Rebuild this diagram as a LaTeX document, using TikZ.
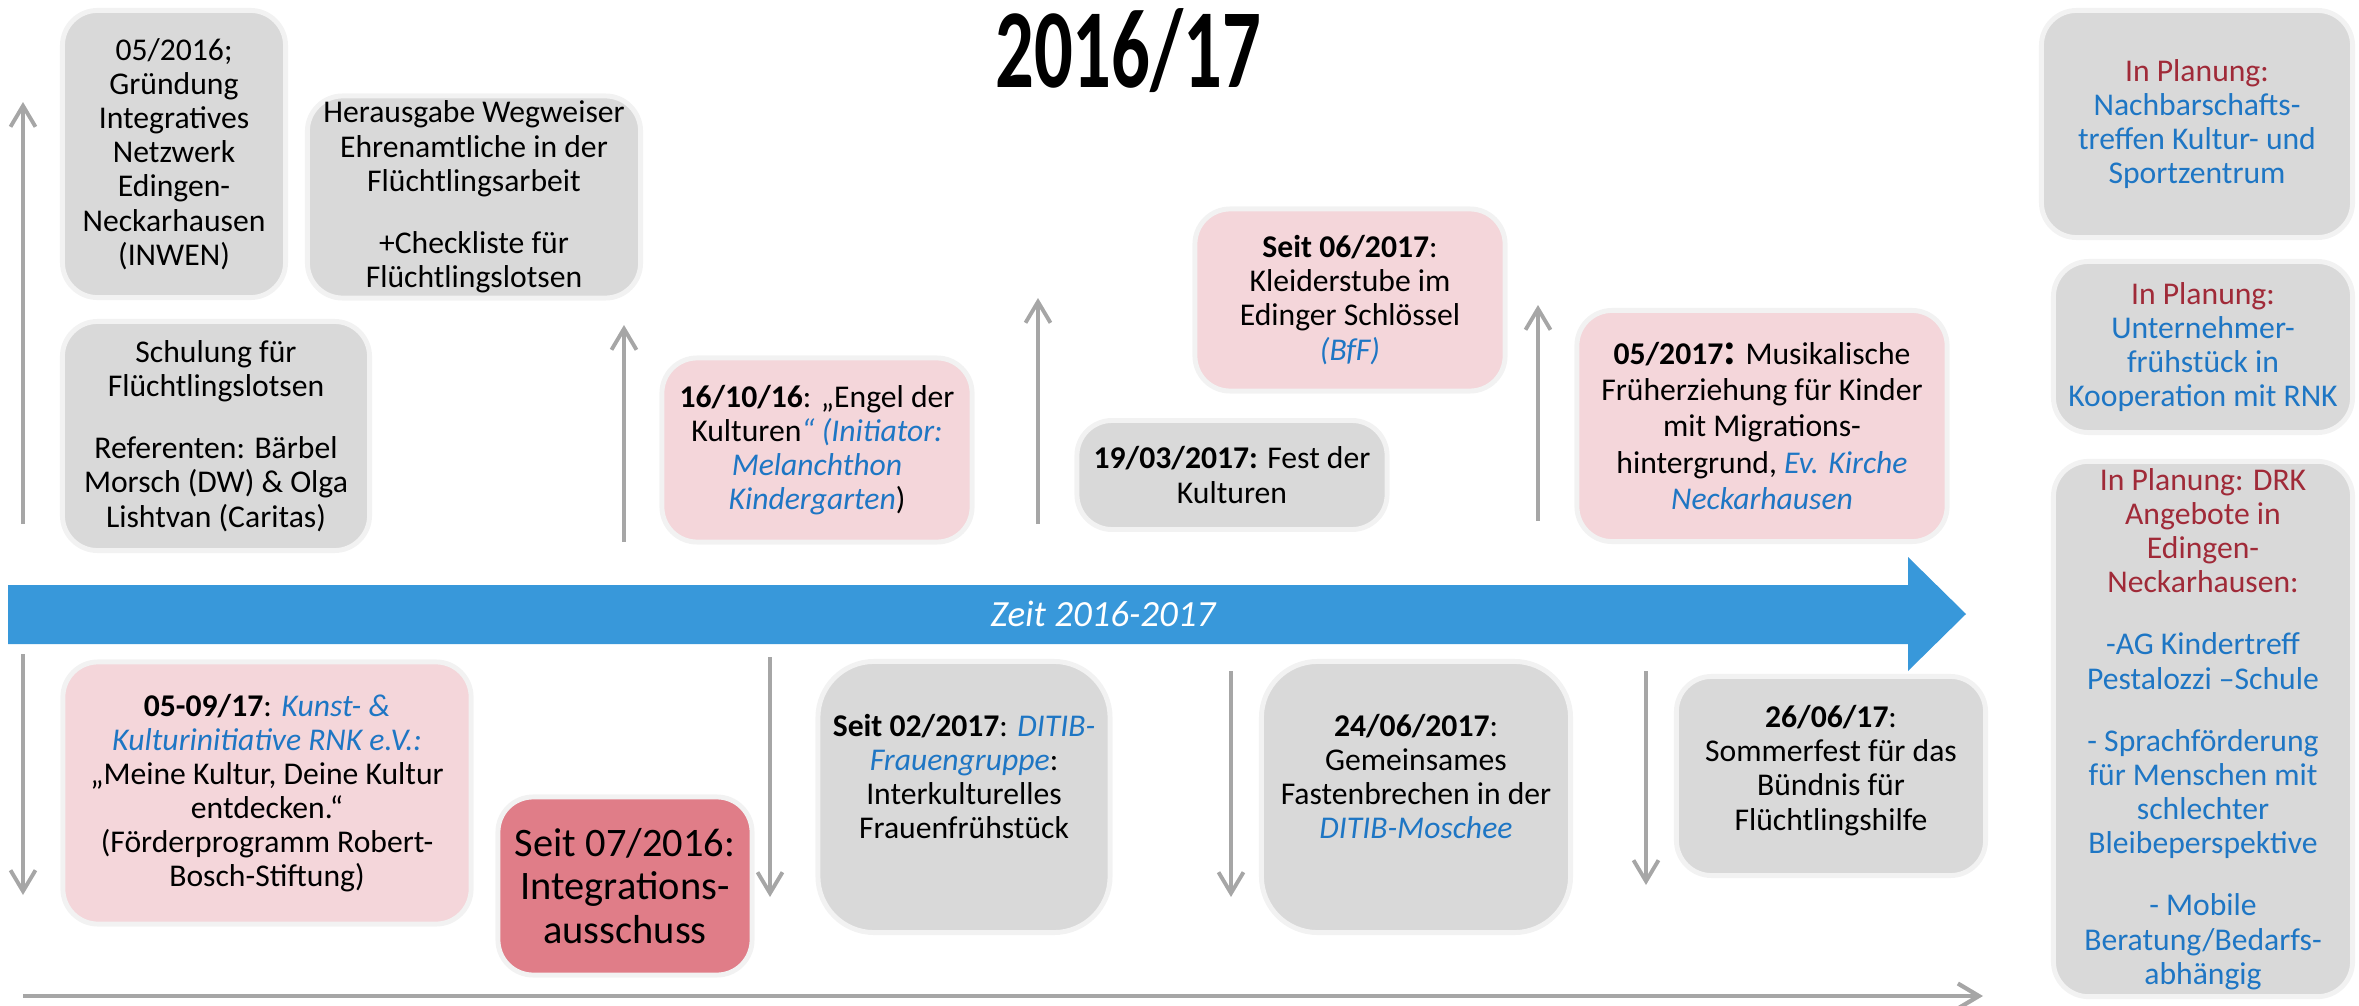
\documentclass[tikz,border=0pt]{standalone}
\usepackage{fontspec}
\setmainfont{Carlito}
\newfontfamily\titlefont{Carlito}[FakeStretch=0.68]
\usepackage{tikz}
\usetikzlibrary{arrows.meta}
\usetikzlibrary{positioning}

\definecolor{boxgrey}{RGB}{217,217,217}
\definecolor{boxedge}{RGB}{242,242,242}
\definecolor{boxpink}{RGB}{244,214,218}
\definecolor{boxrose}{RGB}{224,125,136}
\definecolor{timeblue}{RGB}{56,152,218}
\definecolor{linkblue}{RGB}{30,118,196}
\definecolor{planred}{RGB}{160,42,56}
\definecolor{arrowgrey}{RGB}{166,166,166}

\newcommand{\hl}[1]{\textcolor{linkblue}{\itshape #1}}
\newcommand{\plan}[1]{\textcolor{planred}{#1}}

\begin{document}
\begin{tikzpicture}[x=0.01cm, y=-0.01cm,
		event/.style={rounded corners=10pt, draw=boxedge, line width=1.4pt, align=center, inner sep=1pt,
				font=\fontsize{9}{9.7}\selectfont},
		greyevent/.style={event, fill=boxgrey},
		pinkevent/.style={event, fill=boxpink},
		roseevent/.style={event, fill=boxrose, font=\fontsize{11.5}{12.4}\selectfont},
		planbox/.style={event, fill=boxgrey, text=linkblue},
		tick/.style={arrowgrey, line width=1.1pt, -{Straight Barb[length=2.1mm,width=2.5mm]}}
	]
	\useasboundingbox (0,0) rectangle (2359,1006);

	\node (title) at (1128,51) {\titlefont\bfseries\fontsize{32}{32}\selectfont 2016/17};

	% zeitachse
	\fill[timeblue] (8,585) -- (1908,585) -- (1908,557) -- (1966,614) -- (1908,671) -- (1908,644) -- (8,644) -- cycle;
	\node[text=white, font=\fontsize{10.5}{12}\selectfont\itshape] (zeit) at (1103,614) {Zeit 2016-2017};

	\node[greyevent, minimum width=2.23cm, minimum height=2.87cm] (inwen) at (174,154)
	{05/2016;\\Gründung\\Integratives\\Netzwerk\\Edingen-\\Neckarhausen\\(INWEN)};
	\node[greyevent, minimum width=3.33cm, minimum height=2.02cm] (wegweiser) at (474,197)
	{Herausgabe Wegweiser\\Ehrenamtliche in der\\Flüchtlingsarbeit\\[8pt]+Checkliste für\\Flüchtlingslotsen};
	\node[greyevent, minimum width=3.07cm, minimum height=2.29cm] (schulung) at (216,436)
	{Schulung für\\Flüchtlingslotsen\\[8pt]Referenten: Bärbel\\Morsch (DW) \& Olga\\Lishtvan (Caritas)};
	\node[pinkevent, minimum width=3.10cm, minimum height=1.84cm] (engel) at (817,450)
	{\textbf{16/10/16}: „Engel der\\Kulturen\hl{“ (Initiator:}\\\hl{Melanchthon}\\\hl{Kindergarten})};
	\node[greyevent, minimum width=3.10cm, minimum height=1.09cm] (fest) at (1232,475)
	{\textbf{19/03/2017:} Fest der\\Kulturen};
	\node[pinkevent, minimum width=3.10cm, minimum height=1.82cm] (kleider) at (1350,300)
	{\textbf{Seit 06/2017}:\\Kleiderstube im\\Edinger Schlössel\\\hl{(BfF)}};
	\node[pinkevent, minimum width=3.70cm, minimum height=2.31cm,
		font=\fontsize{9}{10.3}\selectfont] (musik) at (1762,426)
	{\textbf{05/2017}{\fontsize{13}{10.3}\selectfont\bfseries:} Musikalische\\Früherziehung für Kinder\\mit Migrations-\\hintergrund, \hl{Ev. Kirche}\\\hl{Neckarhausen}};

	\node[pinkevent, minimum width=4.08cm, minimum height=2.62cm] (kunst) at (267,793)
	{\textbf{05-09/17}: \hl{Kunst- \&}\\\hl{Kulturinitiative RNK e.V.:}\\„Meine Kultur, Deine Kultur\\entdecken.“\\(Förderprogramm Robert-\\Bosch-Stiftung)};
	\node[roseevent, minimum width=2.54cm, minimum height=1.78cm] (ausschuss) at (625,886)
	{Seit 07/2016:\\Integrations-\\ausschuss};
	\node[greyevent, rounded corners=16pt, minimum width=2.92cm, minimum height=2.71cm] (ditib) at (964,797)
	{\textbf{Seit 02/2017}: \hl{DITIB-}\\\hl{Frauengruppe}:\\Interkulturelles\\Frauenfrühstück\\[2pt]\mbox{}};
	\node[greyevent, rounded corners=16pt, minimum width=3.09cm, minimum height=2.71cm] (fasten) at (1416,797)
	{\textbf{24/06/2017}:\\Gemeinsames\\Fastenbrechen in der\\\hl{DITIB-Moschee}\\[2pt]\mbox{}};
	\node[greyevent, minimum width=3.09cm, minimum height=1.99cm] (sommer) at (1831,776)
	{\textbf{26/06/17}:\\Sommerfest für das\\Bündnis für\\Flüchtlingshilfe\\[-5pt]\mbox{}};

	% in planung
	\node[planbox, minimum width=3.11cm, minimum height=2.27cm] (nachbar) at (2197,124)
	{\plan{In Planung:}\\Nachbarschafts-\\treffen Kultur- und\\Sportzentrum};
	\node[planbox, minimum width=2.99cm, minimum height=1.71cm] (unternehmer) at (2203,347)
	{\plan{In Planung:}\\Unternehmer-\\frühstück in\\Kooperation mit RNK};
	\node[planbox, minimum width=2.99cm, minimum height=5.35cm] (drk) at (2203,729)
	{\plan{In Planung: DRK}\\\plan{Angebote in}\\\plan{Edingen-}\\\plan{Neckarhausen:}\\[8pt]-AG Kindertreff\\Pestalozzi –Schule\\[8pt]- Sprachförderung\\für Menschen mit\\schlechter\\Bleibeperspektive\\[8pt]- Mobile\\Beratung/Bedarfs-\\abhängig};

	\coordinate (up1a) at (23,524);   \coordinate (up1b) at (23,102);
	\coordinate (up2a) at (624,542);  \coordinate (up2b) at (624,325);
	\coordinate (up3a) at (1038,524); \coordinate (up3b) at (1038,298);
	\coordinate (up4a) at (1538,521); \coordinate (up4b) at (1538,305);
	\coordinate (dn1a) at (23,654);   \coordinate (dn1b) at (23,895);
	\coordinate (dn2a) at (770,657);  \coordinate (dn2b) at (770,897);
	\coordinate (dn3a) at (1231,671); \coordinate (dn3b) at (1231,897);
	\coordinate (dn4a) at (1646,671); \coordinate (dn4b) at (1646,885);
	\coordinate (basea) at (23,996);  \coordinate (baseb) at (1983,996);

	\draw[tick] (up1a) -- (up1b);
	\draw[tick] (up2a) -- (up2b);
	\draw[tick] (up3a) -- (up3b);
	\draw[tick] (up4a) -- (up4b);
	\draw[tick] (dn1a) -- (dn1b);
	\draw[tick] (dn2a) -- (dn2b);
	\draw[tick] (dn3a) -- (dn3b);
	\draw[tick] (dn4a) -- (dn4b);
	\draw[tick, line width=1.2pt] (basea) -- (baseb);
\end{tikzpicture}
\end{document}
